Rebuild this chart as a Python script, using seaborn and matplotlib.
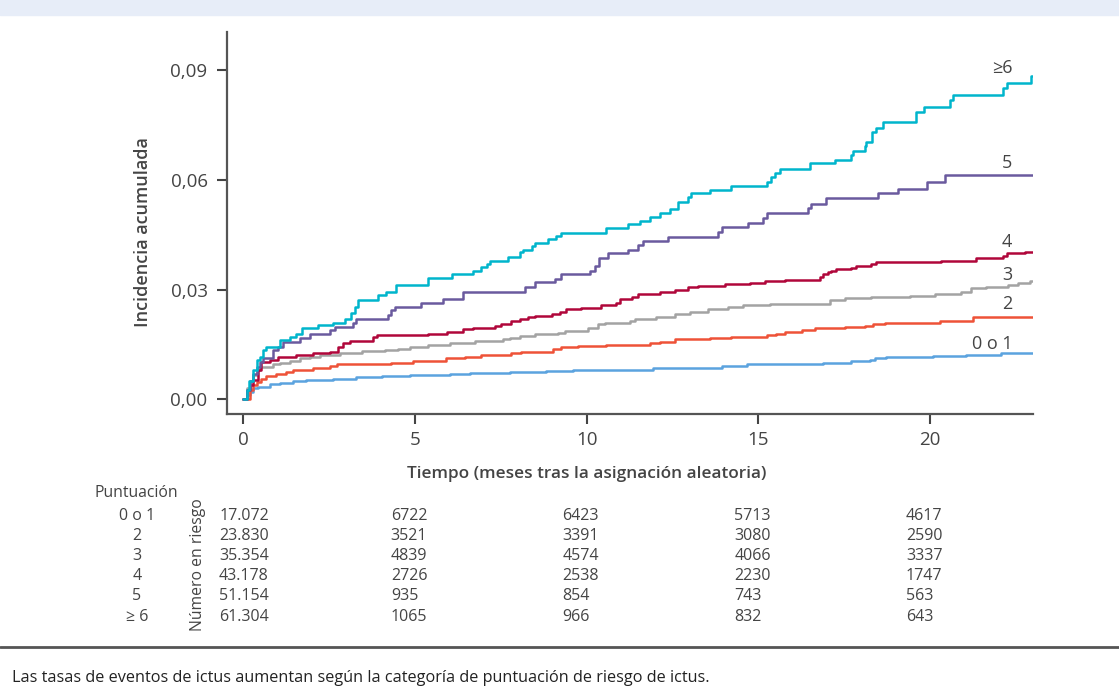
import numpy as np
import pandas as pd
import matplotlib.pyplot as plt
import matplotlib.transforms as mtransforms
from matplotlib.patches import Rectangle
from matplotlib.lines import Line2D
import seaborn as sns

# ---- data ----
groups = ['0 o 1', '2', '3', '4', '5', '≥6']
colors = ['#5BA3DF', '#EE5238', '#A3A3A3', '#B0063A', '#6A5A9E', '#00B5CC']

t_01 = [0, 0.1, 0.2, 0.29, 0.44, 0.78, 1.07, 1.46, 1.84, 2.62, 3.2, 3.3, 4.03, 4.85, 6.02, 6.6, 7.76,
        8.83, 9.61, 11.94, 13.2, 13.93, 14.66, 16.2, 16.88, 17.71, 18.24, 18.39, 18.73, 20.09, 21.06, 22.08, 23.0]
v_01 = [0, .0012, .0021, .003, .0034, .0042, .0046, .005, .0053, .0055, .0057, .0062, .0064, .0066, .0069,
        .0073, .0075, .0077, .008, .0085, .0087, .0091, .0096, .0098, .01, .0105, .0107, .0112, .0115, .0118,
        .0121, .0127, .0127]

t_2 = [0, 0.2, 0.29, 0.39, 0.53, 0.68, 0.97, 1.26, 1.46, 2.04, 2.52, 2.72, 4.32, 4.95, 5.92, 6.45, 6.94,
       7.81, 8.1, 9.02, 9.27, 9.75, 10.58, 11.84, 12.13, 12.57, 13.59, 14.22, 15.24, 15.53, 15.77, 16.26,
       16.64, 17.52, 18.1, 18.34, 18.68, 20.28, 21.25, 23.0]
v_2 = [0, .0025, .0039, .0048, .0055, .0064, .0069, .0075, .008, .0085, .0091, .0096, .01, .0105, .0112,
       .0116, .0121, .0126, .013, .0137, .0142, .0146, .0149, .0153, .0157, .0164, .0169, .0171, .0176, .018,
       .0185, .0189, .0194, .0197, .02, .0205, .0209, .0215, .0226, .0226]

t_3 = [0, 0.1, 0.2, 0.29, 0.39, 0.49, 0.87, 1.07, 1.36, 1.65, 1.94, 2.23, 2.81, 3.45, 4.13, 4.51, 4.85,
       5.39, 6.02, 6.75, 7.57, 7.76, 8.06, 8.49, 9.17, 9.37, 10.04, 10.33, 10.53, 11.26, 11.4, 12.03, 12.57,
       13.0, 13.54, 14.12, 14.56, 15.33, 17.08, 17.52, 18.29, 19.41, 20.14, 20.91, 21.2, 21.64, 22.27,
       22.56, 22.9, 23.0]
v_3 = [0, .003, .005, .0066, .008, .0089, .0096, .01, .0105, .0112, .0116, .0121, .0126, .0133, .0135,
       .0139, .0144, .0148, .0153, .016, .0164, .0169, .0173, .0178, .0182, .0187, .0196, .0206, .0208,
       .0215, .022, .0226, .0232, .0239, .0246, .0253, .0258, .0261, .0271, .0276, .028, .0283, .0287,
       .0294, .0303, .0308, .0312, .0317, .0323, .0323]

t_4 = [0, 0.1, 0.2, 0.29, 0.44, 0.53, 0.78, 1.02, 1.55, 2.04, 2.52, 2.77, 2.91, 3.11, 3.78, 3.9, 5.39,
       5.94, 6.4, 6.7, 7.33, 7.52, 7.81, 8.06, 8.3, 8.49, 8.98, 9.22, 9.41, 9.85, 10.43, 10.87, 10.97, 11.31,
       11.5, 12.13, 12.57, 12.96, 13.25, 14.02, 14.75, 15.19, 15.77, 16.79, 16.88, 17.03, 17.13, 17.27,
       17.71, 17.86, 18.29, 18.44, 20.33, 21.35, 22.12, 22.24, 22.78, 23.0]
v_4 = [0, .0025, .004, .0053, .008, .0103, .0107, .0116, .0121, .0126, .013, .0144, .0153, .0159, .0171,
       .0176, .0179, .0185, .0191, .0196, .02, .0206, .0215, .0219, .0226, .0228, .0233, .0239, .0246, .025,
       .0258, .0264, .0273, .028, .0288, .0294, .03, .0306, .031, .0315, .0319, .0323, .0326, .0335, .0342,
       .0347, .0351, .0355, .036, .0365, .037, .0375, .0379, .0385, .0392, .04, .0404, .0404]

t_5 = [0, 0.1, 0.2, 0.29, 0.39, 0.49, 0.58, 0.87, 1.02, 1.16, 1.65, 1.94, 2.52, 2.67, 3.2, 3.3, 4.22,
       4.32, 4.42, 5.19, 5.82, 6.4, 8.2, 8.49, 9.07, 9.27, 10.09, 10.24, 10.36, 10.63, 11.21, 11.5, 11.65,
       12.37, 13.83, 13.93, 14.7, 15.14, 15.24, 16.45, 16.55, 16.96, 18.49, 19.07, 19.91, 20.43, 23.0]
v_5 = [0, .0025, .005, .007, .0089, .0103, .0112, .0135, .0144, .0157, .0167, .018, .0189, .0198, .0208,
       .0221, .023, .0244, .0253, .0264, .0273, .0294, .0306, .0321, .0328, .0342, .0351, .0364, .0385,
       .0399, .0408, .0422, .0433, .0444, .0458, .0472, .0483, .0497, .0508, .0522, .0534, .0549, .0564,
       .0576, .0595, .0613, .0613]

t_6 = [0, 0.1, 0.18, 0.29, 0.39, 0.49, 0.58, 0.68, 1.07, 1.36, 1.55, 1.7, 2.18, 2.62, 2.96, 3.15, 3.25,
       3.35, 3.93, 4.17, 4.45, 5.39, 6.07, 6.7, 6.94, 7.09, 7.18, 7.71, 8.06, 8.15, 8.4, 8.49, 8.88, 9.12,
       9.27, 10.58, 11.21, 11.55, 11.84, 12.13, 12.42, 12.66, 12.96, 13.05, 13.59, 14.22, 15.24, 15.38,
       15.48, 15.62, 16.5, 17.23, 17.71, 17.76, 18.1, 18.15, 18.32, 18.44, 18.63, 19.6, 19.82, 20.57, 20.67,
       22.12, 22.24, 22.95, 23.0]
v_6 = [0, .0025, .005, .008, .0107, .0116, .0135, .0144, .0162, .0171, .018, .0194, .0203, .0208, .0221,
       .0235, .0253, .0271, .0285, .0294, .0312, .0331, .0342, .0351, .0362, .037, .0379, .039, .0403,
       .0408, .0419, .0428, .0437, .0446, .0456, .0467, .0478, .0488, .0499, .051, .052, .054, .0554,
       .0563, .0572, .0583, .0595, .0608, .0619, .0629, .0645, .0654, .0667, .0678, .0692, .0704, .0731,
       .0743, .0758, .0784, .08, .0818, .0831, .085, .0865, .0883, .0883]

# end-of-curve label positions (incidence)
label_y = [0.0151, 0.026, 0.034, 0.043, 0.0646, 0.0905]

# number at risk table
risk_months = [0, 5, 10, 15, 20]
risk_labels = ['0 o 1', '2', '3', '4', '5', '≥ 6']
risk_01 = ['17.072', '6722', '6423', '5713', '4617']
risk_2 = ['23.830', '3521', '3391', '3080', '2590']
risk_3 = ['35.354', '4839', '4574', '4066', '3337']
risk_4 = ['43.178', '2726', '2538', '2230', '1747']
risk_5 = ['51.154', '935', '854', '743', '563']
risk_6 = ['61.304', '1065', '966', '832', '643']

curves = [(t_01, v_01), (t_2, v_2), (t_3, v_3), (t_4, v_4), (t_5, v_5), (t_6, v_6)]
frames = [pd.DataFrame({'t': t, 'v': v, 'g': g}) for g, (t, v) in zip(groups, curves)]
df = pd.concat(frames, ignore_index=True)

# ---- style ----
sns.set_style('ticks')
plt.rcParams['font.family'] = ['Open Sans', 'DejaVu Sans']
dark = '#444444'

W, H = 1119, 699
fig = plt.figure(figsize=(W / 100, H / 100), dpi=100)


def fx(px):
    return px / W


def fy(py):
    return 1 - py / H


ax = fig.add_axes([fx(227), fy(414), fx(1033) - fx(227), fy(32) - fy(414)])

sns.lineplot(data=df, x='t', y='v', hue='g', palette=dict(zip(groups, colors)),
             hue_order=groups, estimator=None, sort=True, drawstyle='steps-post',
             linewidth=1.8, legend=False, ax=ax)

ax.set_xlim(-0.47, 23)
ax.set_ylim(-0.004, 0.1004)
ax.set_xticks([0, 5, 10, 15, 20])
ax.set_yticks([0, 0.03, 0.06, 0.09])
ax.set_yticklabels(['0,00', '0,03', '0,06', '0,09'])
ax.tick_params(axis='both', labelsize=13.5, colors=dark, length=7, width=1.5, pad=5)
ax.tick_params(axis='y', pad=7)
for s in ['left', 'bottom']:
    ax.spines[s].set_color('#555555')
    ax.spines[s].set_linewidth(1.6)
sns.despine(ax=ax)

ax.set_xlabel('Tiempo (meses tras la asignación aleatoria)', fontsize=12.4,
              fontweight='semibold', color=dark)
ax.set_ylabel('Incidencia acumulada', fontsize=13, fontweight='semibold', color=dark)
ax.xaxis.set_label_coords((587 - 227) / 806, (414 - 466) / 382)
ax.yaxis.set_label_coords((152 - 227) / 806, (414 - 232) / 382)

for g, y in zip(groups, label_y):
    ax.text(22.4, y, g, ha='right', va='center', fontsize=13, color=dark)

# ---- number at risk ----
blend = mtransforms.blended_transform_factory(ax.transData, fig.transFigure)
fig.text(fx(95), fy(493), 'Puntuación', fontsize=11.3, color=dark, va='center', ha='left')
fig.text(fx(198), fy(565), 'Número en riesgo', fontsize=11.3, color=dark,
         rotation=90, va='center', ha='center')
rows = [risk_01, risk_2, risk_3, risk_4, risk_5, risk_6]
row_y = [516, 536, 556, 576.5, 596.5, 617]
for lab, vals, py in zip(risk_labels, rows, row_y):
    fig.text(fx(137), fy(py), lab, fontsize=11.5, color=dark, va='center', ha='center')
    for m, val in zip(risk_months, vals):
        fig.text(m - 0.7, fy(py), val, fontsize=11.5, color=dark, va='center', ha='left',
                 transform=blend)

# ---- frame decorations ----
fig.patches.append(Rectangle((0, fy(15)), 1, 15 / H, transform=fig.transFigure,
                             color='#E7EDF8', zorder=0))
fig.lines.append(Line2D([0, 1], [fy(647), fy(647)], transform=fig.transFigure,
                        color='#555555', linewidth=2))
fig.text(fx(12), fy(678), 'Las tasas de eventos de ictus aumentan según la categoría de '
         'puntuación de riesgo de ictus.', fontsize=11.7, color='#222222', va='center', ha='left')

fig.savefig('out.png', dpi=100)
